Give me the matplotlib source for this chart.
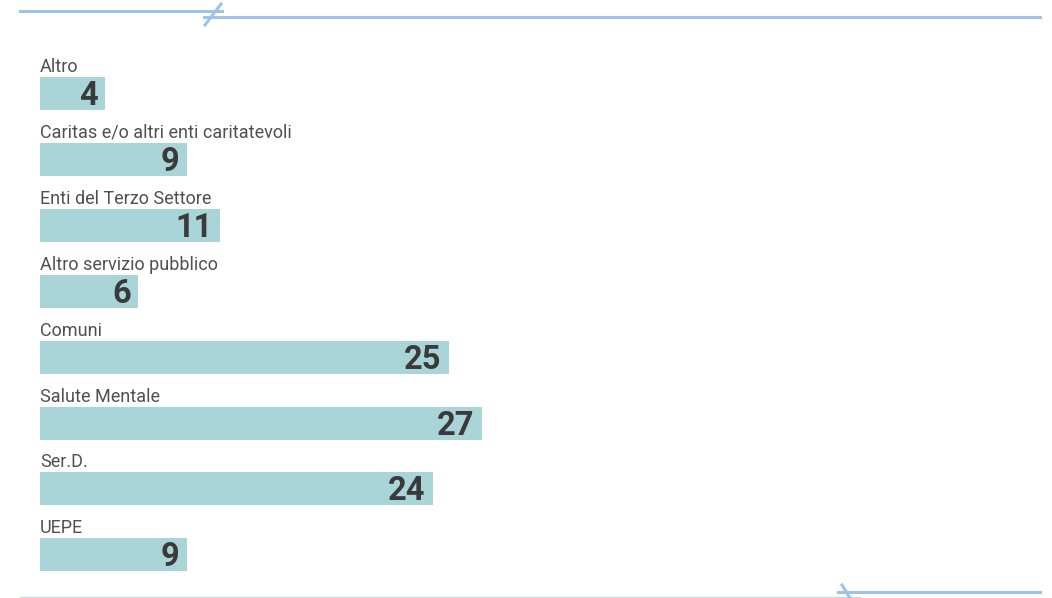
import numpy as np
import matplotlib.pyplot as plt
from matplotlib.lines import Line2D

# dati
categorie = ["Altro", "Caritas e/o altri enti caritatevoli", "Enti del Terzo Settore",
             "Altro servizio pubblico", "Comuni", "Salute Mentale", "Ser.D.", "UEPE"]
valori = [4, 9, 11, 6, 25, 27, 24, 9]

W, H = 1052, 598
fig = plt.figure(figsize=(W / 100, H / 100), dpi=100)
fig.patch.set_facecolor("white")

# assi: x=0 al pixel 40, 16.37 px per unità
px_unit = 442 / 27
ax = fig.add_axes([40 / W, 0, 1000 / W, 1])
ax.set_xlim(0, 1000 / px_unit)
passo = 65.9
ax.set_ylim((H - 93.5) / passo, -93.5 / passo)
ax.axis("off")

y = np.arange(len(categorie))
ax.barh(y, valori, height=33 / passo, color="#aad5d8", edgecolor="none")

for i, (c, v) in enumerate(zip(categorie, valori)):
    ax.text(0, i - 21.5 / passo, c, family="Roboto", fontsize=13, color="#505050",
            va="baseline", ha="left")
    ax.text(v - 7.5 / px_unit, i + 11.5 / passo, str(v), family="Roboto", fontsize=23.5,
            fontweight="bold", color="#3a3a3a", va="baseline", ha="right")

# linee decorative
blu = "#9dc3e6"
def fx(p):
    return p / W
def fy(p):
    return 1 - p / H

fig.add_artist(Line2D([fx(20), fx(222)], [fy(11), fy(11)], color=blu, lw=2.2))
fig.add_artist(Line2D([fx(204), fx(1040)], [fy(17), fy(17)], color=blu, lw=2.2))
fig.add_artist(Line2D([fx(205), fx(221)], [fy(25), fy(4)], color=blu, lw=2.2))

fig.add_artist(Line2D([fx(20), fx(860)], [fy(597), fy(597)], color="#c8daea", lw=1))
fig.add_artist(Line2D([fx(838), fx(1040)], [fy(592), fy(592)], color=blu, lw=2.2))
fig.add_artist(Line2D([fx(842), fx(850)], [fy(585), fy(598)], color=blu, lw=2.2))

fig.savefig("out.png", dpi=100)
